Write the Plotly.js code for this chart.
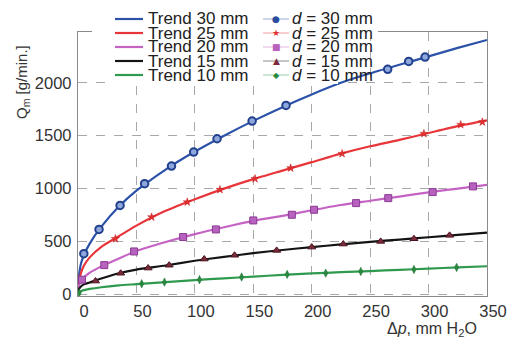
<!DOCTYPE html>
<html>
<head>
<meta charset="utf-8">
<script src="https://cdn.plot.ly/plotly-3.0.1.min.js"></script>
<style>html,body{margin:0;padding:0;background:#fff;}#chart{width:507px;height:340px;}</style>
</head>
<body>
<div id="chart"></div>
<script>
// ---- data ----
const dpTrend = [0, 1, 2.5, 5, 10, 20, 35, 50, 75, 100, 125, 150, 175, 200, 225, 250, 275, 300, 325, 350];
const trend30 = [30, 190, 290, 370, 480, 640, 830, 980, 1180, 1350, 1500, 1640, 1770, 1890, 2000, 2090, 2170, 2250, 2330, 2405];
const trend25 = [30, 130, 200, 270, 350, 450, 550, 650, 790, 900, 1000, 1090, 1170, 1250, 1330, 1400, 1460, 1525, 1590, 1645];
const trend20 = [40, 90, 125, 160, 205, 265, 340, 410, 495, 570, 635, 695, 742, 795, 845, 885, 925, 965, 1000, 1035];
const trend15 = [30, 55, 75, 95, 112, 150, 200, 235, 273, 318, 355, 390, 420, 447, 473, 497, 518, 540, 562, 583];
const trend10 = [10, 20, 30, 40, 52, 68, 85, 97, 117, 135, 152, 168, 185, 198, 210, 221, 232, 244, 255, 266];

const dp30 = [5, 18, 36, 57, 80, 99, 119, 149, 178, 265, 283, 297];
const q30  = [385, 614, 841, 1046, 1213, 1345, 1471, 1638, 1786, 2127, 2202, 2243];
const dp25 = [32, 63, 93.5, 121.5, 151.5, 182, 226, 296, 327.5, 346];
const q25  = [526, 731, 873, 990, 1093, 1194, 1330, 1519, 1604, 1629];
const dp20 = [3.4, 22.5, 48, 90, 118, 150, 183, 202, 238, 265.5, 303.5, 338];
const q20  = [139, 277, 406, 542, 614, 699, 753, 800, 863, 910, 967, 1021];
const dp15 = [15, 36.5, 60, 78, 108, 134, 170, 200, 227, 259, 287.5, 318];
const q15  = [126, 200, 249, 276, 334, 370, 416, 447, 476, 501, 526, 558];
const dp10 = [1, 54.5, 74, 104, 140, 179, 212, 242, 287.5, 324];
const q10  = [15, 101, 116, 139, 164, 189, 201, 217, 236, 255];

const trendLabels = ['Trend 30 mm', 'Trend 25 mm', 'Trend 20 mm', 'Trend 15 mm', 'Trend 10 mm'];
const markerLabels = ['<i>d</i> = 30 mm', '<i>d</i> = 25 mm', '<i>d</i> = 20 mm', '<i>d</i> = 15 mm', '<i>d</i> = 10 mm'];
const xTicks = [0, 50, 100, 150, 200, 250, 300, 350];
const yTicks = [0, 500, 1000, 1500, 2000];

// ---- styling ----
const lineColors = ['#2b52a8', '#e8353a', '#c563c4', '#141414', '#2f9a4f'];
const markerStyles = [
  {symbol: 'circle', size: 7.5, color: '#8ea8de', line: {color: '#22408c', width: 2}},
  {symbol: 'star', size: 6, color: '#e33030', line: {color: '#c02020', width: 0.5}},
  {symbol: 'square', size: 7, color: '#b862c0', line: {color: '#8a3a92', width: 1}},
  {symbol: 'triangle-up', size: 7, color: '#7a2a3a', line: {color: '#4a1520', width: 1}},
  {symbol: 'diamond-tall', size: 6, color: '#2a8a40', line: {color: '#1f6a30', width: 0.5}}
];
const legendGlyphs = ['\u25CF', '\u2605', '\u25A0', '\u25B2', '\u25C6'];
const glyphColors = ['#2a4c9c', '#e33030', '#b862c0', '#7a2a3a', '#2a8a40'];

const trends = [trend30, trend25, trend20, trend15, trend10];
const mdp = [dp30, dp25, dp20, dp15, dp10];
const mq = [q30, q25, q20, q15, q10];

const traces = [];
trends.forEach((t, i) => {
  traces.push({x: dpTrend, y: t, mode: 'lines', type: 'scatter', name: trendLabels[i],
    line: {color: lineColors[i], width: 2.2, shape: 'spline', smoothing: 0.6}, hoverinfo: 'skip'});
});
mdp.forEach((d, i) => {
  traces.push({x: d, y: mq[i], mode: 'markers', type: 'scatter', name: markerLabels[i],
    marker: markerStyles[i]});
});

// plot area in pixels
const L = 78, R = 487, T = 32, B = 296;
const W = 507, H = 340;
const px = v => (v - L) / (R - L);
const py = v => (B - v) / (B - T);

const rowY = [19, 33, 47, 61, 75];
const shapes = [
  {type: 'rect', xref: 'paper', yref: 'paper', x0: px(92), x1: px(378), y0: py(5), y1: py(38),
   fillcolor: '#fff', line: {width: 0}, layer: 'above'},
  {type: 'rect', xref: 'paper', yref: 'paper', x0: px(112), x1: px(338), y0: py(38), y1: py(84),
   fillcolor: '#fff', line: {width: 0}, layer: 'above'}
];
const annotations = [];
rowY.forEach((y, i) => {
  shapes.push({type: 'line', xref: 'paper', yref: 'paper', x0: px(115), x1: px(143), y0: py(y), y1: py(y),
    line: {color: lineColors[i], width: 2.2}, layer: 'above'});
  shapes.push({type: 'line', xref: 'paper', yref: 'paper', x0: px(263), x1: px(289), y0: py(y), y1: py(y),
    line: {color: lineColors[i], width: 0.8}, opacity: 0.6, layer: 'above'});
  annotations.push({xref: 'paper', yref: 'paper', x: px(147), y: py(y), xanchor: 'left', yanchor: 'middle',
    text: trendLabels[i], showarrow: false, borderpad: 0,
    font: {family: 'Liberation Sans, Arial, sans-serif', size: 17, color: '#222'}});
  annotations.push({xref: 'paper', yref: 'paper', x: px(276), y: py(y), xanchor: 'center', yanchor: 'middle',
    text: legendGlyphs[i], showarrow: false, borderpad: 0,
    font: {family: 'DejaVu Sans, sans-serif', size: i === 4 ? 8 : 9, color: glyphColors[i]}});
  annotations.push({xref: 'paper', yref: 'paper', x: px(291), y: py(y), xanchor: 'left', yanchor: 'middle',
    text: markerLabels[i], showarrow: false, borderpad: 0,
    font: {family: 'Liberation Sans, Arial, sans-serif', size: 17, color: '#222'}});
});
annotations.push({xref: 'paper', yref: 'paper', x: px(478), y: py(329), xanchor: 'right', yanchor: 'middle',
  text: '\u0394<i>p</i>, mm H<sub>2</sub>O', showarrow: false, borderpad: 0,
  font: {family: 'Liberation Sans, Arial, sans-serif', size: 16, color: '#333'}});
annotations.push({xref: 'paper', yref: 'paper', x: px(22), y: py(82), xanchor: 'center', yanchor: 'middle',
  text: 'Q<sub>m</sub> [g/min.]', textangle: -90, showarrow: false,
  font: {family: 'Liberation Sans, Arial, sans-serif', size: 15, color: '#333'}});

const layout = {
  width: W, height: H,
  margin: {l: L, r: W - R, t: T, b: H - B, pad: 0},
  paper_bgcolor: '#fff', plot_bgcolor: '#fff',
  showlegend: false,
  font: {family: 'Liberation Sans, Arial, sans-serif', color: '#333'},
  xaxis: {range: [0, 350], tickvals: xTicks, ticktext: xTicks.map(String), ticks: '',
    showgrid: true, gridcolor: '#a8a8a8', griddash: 'dash', gridwidth: 1,
    showline: true, linecolor: '#8a8a8a', linewidth: 1.2, mirror: true, zeroline: false,
    tickfont: {size: 16.5, color: '#333'}, ticklabelshift: 6, ticklabelstandoff: 0},
  yaxis: {range: [-15, 2480], tickvals: yTicks, ticktext: yTicks.map(String), ticks: '',
    showgrid: true, gridcolor: '#a8a8a8', griddash: 'dash', gridwidth: 1,
    showline: true, linecolor: '#8a8a8a', linewidth: 1.2, mirror: true, zeroline: false,
    tickfont: {size: 16.5, color: '#333'}, ticklabelstandoff: 2},
  shapes: shapes,
  annotations: annotations
};

Plotly.newPlot('chart', traces, layout, {staticPlot: true, displayModeBar: false});
</script>
</body>
</html>
